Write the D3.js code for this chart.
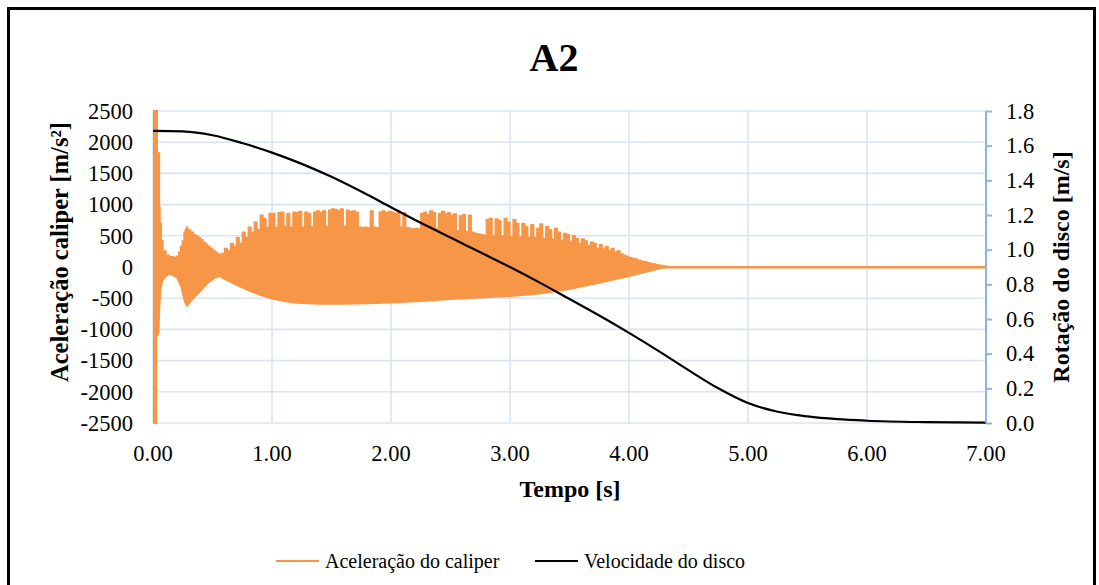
<!DOCTYPE html>
<html>
<head>
<meta charset="utf-8">
<script src="https://cdn.jsdelivr.net/npm/d3@7"></script>
<style>
  html, body { margin: 0; padding: 0; background: #fff; }
  svg { display: block; }
  text { font-family: "Liberation Serif", "Times New Roman", serif; fill: #000; }
</style>
</head>
<body>
<svg id="chart" width="1099" height="585"></svg>
<script>
// ---- Data ----
const title = "A2";
const xTicks = [0, 1, 2, 3, 4, 5, 6, 7];
const yLeftTicks = [-2500, -2000, -1500, -1000, -500, 0, 500, 1000, 1500, 2000, 2500];
const yRightTicks = [0, 0.2, 0.4, 0.6, 0.8, 1.0, 1.2, 1.4, 1.6, 1.8];

// Caliper acceleration: upper envelope of the oscillation (m/s²)
// start-up transient, irregular sampling
const accUpperEarlyT = [0, 0.037, 0.055, 0.06, 0.07, 0.085, 0.11, 0.14, 0.17, 0.2, 0.215, 0.23, 0.245, 0.26, 0.27, 0.28, 0.29, 0.30, 0.32, 0.34, 0.36, 0.38, 0.40, 0.42, 0.44, 0.46, 0.48, 0.50, 0.52, 0.54, 0.56];
const accUpperEarlyV = [3000, 1830, 960, 700, 420, 260, 190, 165, 160, 175, 240, 330, 420, 560, 600, 640, 610, 590, 560, 520, 500, 470, 440, 400, 370, 330, 300, 270, 240, 210, 200];
// peak envelope sampled every 0.025 s from 0.575 s to 4.325 s
const accPeakStart = 0.575;
const accPeakStep = 0.025;
const accPeaks = [
  220, 300, 260, 380, 330, 470, 380, 560, 470, 640, 560, 720, 600, 830, 780, 640, 860,
  860, 640, 870, 880, 650, 860, 640, 880, 870, 890, 640, 880, 860, 650, 880, 900, 870, 900, 650, 910,
  930, 920, 900, 930, 650, 910, 890, 900, 880, 640, 630, 640, 630, 900, 640, 630, 880, 900, 870, 890,
  880, 860, 890, 640, 870, 630, 620, 610, 620, 610, 860, 880, 840, 900, 870, 620, 860, 890, 850, 870,
  830, 850, 580, 820, 840, 570, 830, 560, 540, 530, 520, 510, 760, 780, 500, 770, 740, 500, 780, 720,
  490, 760, 700, 480, 700, 650, 480, 680, 470, 620, 690, 460, 650, 600, 450, 620, 560, 430, 540, 520,
  410, 500, 460, 380, 450, 420, 340, 400, 380, 300, 360, 290, 330, 260, 300, 240, 260, 210, 190, 170,
  150, 140, 125, 110, 95, 85, 70, 60, 50, 40, 30, 22, 14, 6
];
// after the disc stops the signal stays at zero
const accTailT = [4.35, 7.0];
const accTailV = [0, 0];

// lower envelope of the oscillation (m/s²)
const accLowerT = [0, 0.035, 0.037, 0.055, 0.06, 0.07, 0.085, 0.11, 0.14, 0.17, 0.2, 0.23, 0.26, 0.28, 0.30, 0.33, 0.37, 0.42, 0.47, 0.52, 0.56, 0.6, 0.7, 0.8, 0.9, 1.0, 1.1, 1.2, 1.4, 1.6, 1.8, 2.0, 2.25, 2.5, 2.75, 3.0, 3.25, 3.5, 3.75, 4.0, 4.15, 4.3, 4.33, 7.0];
const accLowerV = [-3000, -3000, -1130, -1050, -700, -380, -230, -160, -130, -150, -190, -320, -560, -640, -610, -540, -460, -360, -260, -190, -160, -210, -300, -390, -460, -520, -560, -590, -605, -605, -595, -585, -560, -530, -505, -480, -440, -370, -270, -160, -90, -20, 0, 0];

// Disc speed (m/s)
const speedT = [0, 0.25, 0.5, 0.75, 1.0, 1.25, 1.5, 1.75, 2.0, 2.25, 2.5, 2.75, 3.0, 3.25, 3.5, 3.75, 4.0, 4.25, 4.5, 4.75, 5.0, 5.25, 5.5, 5.75, 6.0, 6.5, 7.0];
const speedV = [1.685, 1.682, 1.66, 1.615, 1.56, 1.495, 1.42, 1.335, 1.245, 1.155, 1.07, 0.985, 0.90, 0.81, 0.715, 0.62, 0.52, 0.415, 0.305, 0.20, 0.115, 0.065, 0.038, 0.022, 0.013, 0.005, 0.002];

const legendItems = [
  { label: "Aceleração do caliper", color: "#F79646" },
  { label: "Velocidade do disco", color: "#000000" }
];

// ---- Layout ----
const svg = d3.select("#chart");
const plot = { left: 153, right: 986, top: 111, bottom: 423 };
const orange = "#F79646";
const gridColor = "#D9E4F4";
const axisColor = "#8EB4E3";

const x = d3.scaleLinear().domain([0, 7]).range([plot.left, plot.right]);
const yL = d3.scaleLinear().domain([-2500, 2500]).range([plot.bottom, plot.top]);
const yR = d3.scaleLinear().domain([0, 1.8]).range([plot.bottom, plot.top]);

// outer frame
svg.append("rect")
  .attr("x", 8.5).attr("y", 8.5).attr("width", 1086).attr("height", 620)
  .attr("fill", "none").attr("stroke", "#000").attr("stroke-width", 3);

// title
svg.append("text").attr("x", 554).attr("y", 71)
  .attr("text-anchor", "middle").style("font-size", "40px").style("font-weight", "bold")
  .text(title);

// gridlines
const grid = svg.append("g");
grid.selectAll("line.h").data(yLeftTicks).join("line")
  .attr("x1", plot.left).attr("x2", plot.right)
  .attr("y1", d => yL(d)).attr("y2", d => yL(d))
  .attr("stroke", gridColor).attr("stroke-width", 1.6);
grid.selectAll("line.v").data(xTicks).join("line")
  .attr("x1", d => x(d)).attr("x2", d => x(d))
  .attr("y1", plot.top).attr("y2", plot.bottom)
  .attr("stroke", gridColor).attr("stroke-width", 1.6);

// clip region for the series
svg.append("clipPath").attr("id", "plotClip").append("rect")
  .attr("x", plot.left).attr("y", plot.top - 1)
  .attr("width", plot.right - plot.left).attr("height", plot.bottom - plot.top + 2);

const series = svg.append("g").attr("clip-path", "url(#plotClip)");

// upper half of the oscillation band
const upperPts = accUpperEarlyT.map((t, i) => [t, accUpperEarlyV[i]])
  .concat(accPeaks.map((v, i) => [accPeakStart + i * accPeakStep, v]))
  .concat(accTailT.map((t, i) => [t, accTailV[i]]));
const lowerPts = accLowerT.map((t, i) => [t, accLowerV[i]]);

series.append("path")
  .datum(lowerPts)
  .attr("d", d3.area().x(d => x(d[0])).y0(d => yL(d[1])).y1(yL(0) - 1))
  .attr("fill", orange);

series.append("path")
  .datum(upperPts)
  .attr("d", d3.area().curve(d3.curveStepAfter).x(d => x(d[0])).y0(yL(0) + 1).y1(d => yL(d[1])))
  .attr("fill", orange).attr("stroke", orange).attr("stroke-width", 1.2);

// disc speed line (right axis)
series.append("path")
  .datum(speedT.map((t, i) => [t, speedV[i]]))
  .attr("d", d3.line().curve(d3.curveMonotoneX).x(d => x(d[0])).y(d => yR(d[1])))
  .attr("fill", "none").attr("stroke", "#000").attr("stroke-width", 2.2);

// left axis labels
const fmtL = d3.format("d");
svg.append("g").selectAll("text").data(yLeftTicks).join("text")
  .attr("x", 133).attr("y", d => yL(d)).attr("dy", "0.35em")
  .attr("text-anchor", "end").style("font-size", "22.5px")
  .text(d => d < 0 ? "-" + fmtL(-d) : fmtL(d));

// bottom axis labels
svg.append("g").selectAll("text").data(xTicks).join("text")
  .attr("x", d => x(d)).attr("y", 453).attr("dy", "0.35em")
  .attr("text-anchor", "middle").style("font-size", "22.5px")
  .text(d3.format(".2f"));

// right axis
const rightAxis = d3.axisRight(yR).tickValues(yRightTicks).tickSize(6).tickFormat(d3.format(".1f"));
const ra = svg.append("g").attr("transform", `translate(${plot.right},0)`).call(rightAxis);
ra.select(".domain").attr("stroke", axisColor).attr("stroke-width", 2).attr("d", `M0,${plot.top}V${plot.bottom}`);
ra.selectAll(".tick line").attr("stroke", axisColor).attr("stroke-width", 2);
ra.selectAll(".tick text").attr("x", 20).style("font-size", "22.5px")
  .style("font-family", "'Liberation Serif', 'Times New Roman', serif").attr("fill", "#000");

// axis titles
svg.append("text")
  .attr("transform", "translate(68,252) rotate(-90)")
  .attr("text-anchor", "middle").style("font-size", "24.5px").style("font-weight", "bold")
  .text("Aceleração caliper [m/s²]");
svg.append("text")
  .attr("transform", "translate(1069,267) rotate(-90)")
  .attr("text-anchor", "middle").style("font-size", "24px").style("font-weight", "bold")
  .text("Rotação do disco [m/s]");
svg.append("text")
  .attr("x", 570).attr("y", 497)
  .attr("text-anchor", "middle").style("font-size", "24px").style("font-weight", "bold")
  .text("Tempo [s]");

// legend
const legendX = [276, 535];
const lg = svg.append("g").selectAll("g").data(legendItems).join("g")
  .attr("transform", (d, i) => `translate(${legendX[i]},561)`);
lg.append("line").attr("x1", 0).attr("x2", 43).attr("y1", 0).attr("y2", 0)
  .attr("stroke", d => d.color).attr("stroke-width", 2);
lg.append("text").attr("x", 49).attr("y", 0).attr("dy", "0.35em")
  .style("font-size", "20px").text(d => d.label);
</script>
</body>
</html>
